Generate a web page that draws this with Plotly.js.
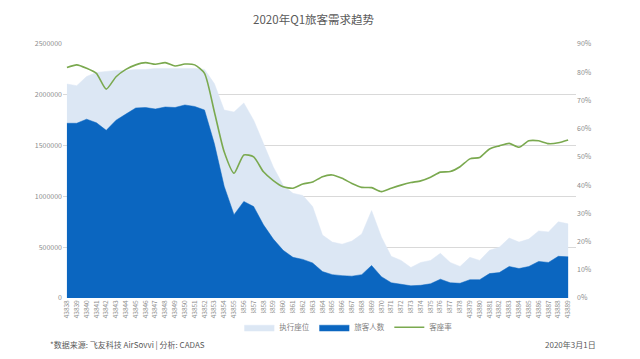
<!DOCTYPE html>
<html>
<head>
<meta charset="utf-8">
<script src="https://cdn.plot.ly/plotly-3.0.1.min.js"></script>
<style>html,body{margin:0;padding:0;background:#fff;}#chart{width:640px;height:359px;}</style>
</head>
<body>
<div id="chart"></div>
<script>
var categories = ["43838","43839","43840","43841","43842","43843","43844","43845","43846","43847","43848","43849","43850","43851","43852","43853","43854","43855","43856","43857","43858","43859","43860","43861","43862","43863","43864","43865","43866","43867","43868","43869","43870","43871","43872","43873","43874","43875","43876","43877","43878","43879","43880","43881","43882","43883","43884","43885","43886","43887","43888","43889"];

// 执行座位 (seats)
var seats = [2106000,2090000,2180000,2220000,2230000,2240000,2240000,2250000,2250000,2260000,2260000,2260000,2260000,2260000,2250000,2110000,1850000,1830000,1920000,1750000,1520000,1290000,1110000,1030000,1010000,900000,620000,550000,530000,560000,630000,860000,600000,410000,370000,300000,350000,370000,440000,350000,310000,400000,370000,470000,500000,590000,550000,580000,660000,650000,750000,730000];

// 旅客人数 (passengers)
var passengers = [1720000,1720000,1760000,1725000,1650000,1750000,1810000,1870000,1875000,1860000,1880000,1875000,1900000,1885000,1850000,1520000,1100000,820000,950000,900000,720000,580000,470000,400000,380000,345000,260000,230000,220000,215000,230000,320000,210000,150000,135000,120000,125000,140000,185000,150000,145000,180000,180000,240000,250000,310000,290000,310000,360000,350000,410000,405000];

// 客座率 (load factor)
var loadFactor = [0.817,0.826,0.814,0.796,0.740,0.784,0.810,0.826,0.834,0.828,0.834,0.822,0.829,0.826,0.796,0.660,0.518,0.442,0.507,0.500,0.447,0.416,0.394,0.389,0.404,0.411,0.430,0.436,0.424,0.406,0.392,0.391,0.377,0.389,0.400,0.409,0.415,0.428,0.446,0.448,0.465,0.493,0.498,0.528,0.539,0.548,0.534,0.557,0.557,0.547,0.550,0.560];

var FONT = "'Noto Sans CJK SC', 'Noto Sans', sans-serif";

var traces = [
  {x: categories, y: seats, name: "执行座位", type: "scatter", mode: "lines",
   fill: "tozeroy", fillcolor: "#dce7f4", line: {color: "#dce7f4", width: 0.5}},
  {x: categories, y: passengers, name: "旅客人数", type: "scatter", mode: "lines",
   fill: "tozeroy", fillcolor: "#0b66c0", line: {color: "#0b66c0", width: 0.5}},
  {x: categories, y: loadFactor, name: "客座率", type: "scatter", mode: "lines",
   yaxis: "y2", line: {color: "#7aa94f", width: 1.6, shape: "spline", smoothing: 0.6}}
];

var layout = {
  width: 640, height: 359,
  margin: {l: 63, r: 64, t: 44, b: 61},
  paper_bgcolor: "#ffffff", plot_bgcolor: "#ffffff",
  font: {family: FONT, color: "#8c8c8c", size: 7},
  title: {text: "2020年Q1旅客需求趋势", x: 0.49, xanchor: "center", y: 0.945, yanchor: "middle",
          font: {family: FONT, size: 11.5, color: "#595959"}},
  showlegend: true,
  legend: {orientation: "h", x: 0.563, xanchor: "center", y: -0.115, yanchor: "middle",
           font: {family: FONT, size: 7.5, color: "#7f7f7f"}, itemwidth: 30,
           entrywidth: 30, traceorder: "normal"},
  xaxis: {type: "category", range: [-0.4, 51.8], tickangle: -90, showgrid: false,
          showline: false, zeroline: false, ticks: "", tickfont: {size: 6.5, color: "#8c8c8c"}},
  yaxis: {range: [0, 2500000], dtick: 500000, tickformat: "d", showgrid: true,
          gridcolor: "#d9d9d9", gridwidth: 1, zeroline: false, showline: false,
          ticks: "", tickfont: {size: 7, color: "#8c8c8c"}},
  yaxis2: {range: [0, 0.9], dtick: 0.1, tickformat: ".0%", overlaying: "y", side: "right",
           showgrid: false, zeroline: false, showline: false, ticks: "",
           tickfont: {size: 7, color: "#8c8c8c"}},
  annotations: [
    {text: "*数据来源: 飞友科技 AirSovvi | 分析: CADAS", xref: "paper", yref: "paper",
     x: -0.029, xanchor: "left", y: -0.185, yanchor: "middle", showarrow: false,
     font: {family: FONT, size: 8, color: "#595959"}},
    {text: "2020年3月1日", xref: "paper", yref: "paper",
     x: 1.043, xanchor: "right", y: -0.185, yanchor: "middle", showarrow: false,
     font: {family: FONT, size: 8, color: "#595959"}}
  ]
};

Plotly.newPlot("chart", traces, layout, {displayModeBar: false, staticPlot: true});
</script>
</body>
</html>
